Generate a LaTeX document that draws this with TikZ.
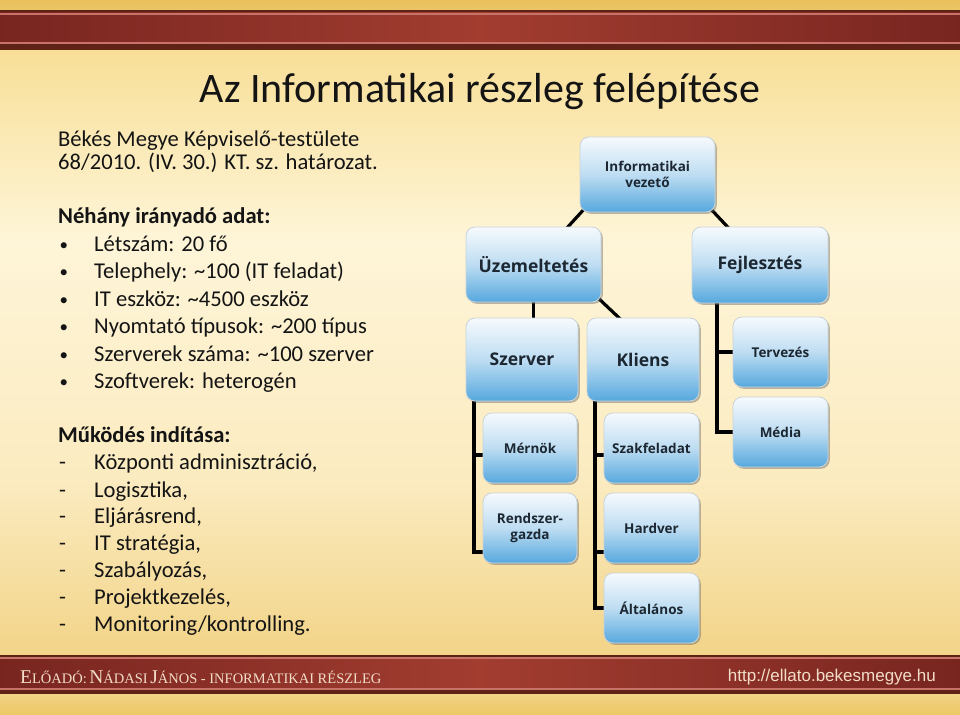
\documentclass[tikz,border=0pt]{standalone}
\usepackage{fontspec}
\setmainfont{Carlito}
\newfontfamily\boxfont{Open Sans}
\newfontfamily\footserif{Liberation Serif}
\newfontfamily\urlfont{Liberation Sans}
\usetikzlibrary{calc,shadows}
\pgfdeclarelayer{bglayer}
\pgfdeclarelayer{connlayer}
\pgfsetlayers{bglayer,connlayer,main}
\definecolor{bgtop}{HTML}{E9C05C}
\definecolor{bgA}{HTML}{F8DF98}
\definecolor{bgB}{HTML}{FEF5D8}
\definecolor{bgC}{HTML}{FBEBC0}
\definecolor{bgD}{HTML}{F2D488}
\definecolor{bgbot}{HTML}{EDC865}
\definecolor{redmid}{HTML}{A23D30}
\definecolor{redside}{HTML}{782520}
\definecolor{reddark}{HTML}{5C2214}
\definecolor{redlight}{HTML}{C8736A}
\definecolor{boxtop}{HTML}{F6FAFD}
\definecolor{boxmid}{HTML}{BEDDF2}
\definecolor{boxbot}{HTML}{56A8DE}
\definecolor{boxedge}{HTML}{C9D3DA}
\definecolor{boxtext}{HTML}{1C2732}
\definecolor{foottext}{HTML}{F2DDC8}
\definecolor{bodytext}{HTML}{141414}
\newcommand{\fsmall}[1]{{\fontsize{14.5}{14.5}\selectfont #1}}
\newcommand{\fbig}[1]{{\fontsize{19.5}{19.5}\selectfont #1}}
\begin{document}
\begin{tikzpicture}[x=1pt,y=-1pt,
  orgbox/.style={draw=boxedge, line width=0.8pt, rounded corners=9pt,
    top color=boxtop, bottom color=boxbot, middle color=boxmid,
    text=boxtext, font=\boxfont\bfseries\fontsize{13.5}{16}\selectfont, align=center, inner sep=0pt,
    drop shadow={shadow xshift=1.8pt, shadow yshift=-1.8pt, opacity=0.45, fill=black!60}},
  bigbox/.style={orgbox, font=\boxfont\bfseries\fontsize{17.5}{19}\selectfont},
  conn/.style={draw=black, line width=3.2pt},
  body/.style={anchor=base west, inner sep=0pt, text=bodytext, font=\fontsize{22.6}{26}\selectfont},
  bodyb/.style={body, font=\fontsize{22.6}{26}\selectfont\bfseries},
  bul/.style={body, font=\fontsize{17}{20}\selectfont},
  ]
\useasboundingbox (0,0) rectangle (960,714);
\begin{pgfonlayer}{bglayer}
% background
\fill[top color=bgtop, bottom color=bgtop!80!bgA] (0,0) rectangle (960,12);
\fill[top color=bgA, bottom color=bgB] (0,50) rectangle (960,240);
\fill[top color=bgB, bottom color=bgC] (0,240) rectangle (960,480);
\fill[top color=bgC, bottom color=bgD] (0,480) rectangle (960,656);
\fill[top color=bgD, bottom color=bgbot] (0,692) rectangle (960,714);
% top band
\shade[left color=redside, right color=redside, middle color=redmid] (0,11) rectangle (960,50);
\fill[reddark] (0,10.5) rectangle (960,12.5);
\fill[redlight] (0,13.5) rectangle (960,15);
\fill[redlight] (0,42.5) rectangle (960,44.5);
\fill[reddark!85!redside] (0,44.5) rectangle (960,50.5);
% bottom band
\shade[left color=redside, right color=redside, middle color=redmid] (0,655) rectangle (960,693);
\fill[reddark] (0,654.5) rectangle (960,656.5);
\fill[redlight] (0,657) rectangle (960,658.5);
\fill[redlight] (0,687.5) rectangle (960,689.5);
\fill[reddark!85!redside] (0,689.5) rectangle (960,694);
\end{pgfonlayer}

% title
\node[anchor=base, inner sep=0pt, text=bodytext, font=\fontsize{42}{46}\selectfont] (title) at (480,103) {Az Informatikai részleg felépítése};

% left texts
\node[body] (l1) at (58,147) {Békés Megye Képviselő-testülete};
\node[body] (l2) at (58,170) {68/2010. (IV. 30.) KT. sz. határozat.};
\node[bodyb] (h1) at (58,223) {Néhány irányadó adat:};
\foreach \y/\t [count=\i] in {251/{Létszám: 20 fő},278/{Telephely: \textasciitilde100 (IT feladat)},306/{IT eszköz: \textasciitilde4500 eszköz},333/{Nyomtató típusok: \textasciitilde200 típus},361/{Szerverek száma: \textasciitilde100 szerver},388/{Szoftverek: heterogén}}{
  \node[bul] (bd\i) at (59.5,\y-1) {•};
  \node[body] (bt\i) at (94,\y) {\t};
}
\node[bodyb] (h2) at (58,442) {Működés indítása:};
\foreach \y/\t [count=\i] in {469/{Központi adminisztráció,},497/{Logisztika,},523/{Eljárásrend,},550/{IT stratégia,},577/{Szabályozás,},604/{Projektkezelés,},631/{Monitoring/kontrolling.}}{
  \node[body] (dd\i) at (59,\y) {-};
  \node[body] (dt\i) at (94,\y) {\t};
}

% footer
\node[anchor=west, inner sep=0pt, text=foottext, font=\footserif] (foot) at (20,677)
  {\fbig{E}\fsmall{LŐADÓ:} \fbig{N}\fsmall{ÁDASI} \fbig{J}\fsmall{ÁNOS - INFORMATIKAI RÉSZLEG}};
\node[anchor=east, inner sep=0pt, text=foottext, font=\urlfont\fontsize{17}{17}\selectfont] (url) at (936,677) {http://ellato.bekesmegye.hu};

% org chart nodes
\node[orgbox, minimum width=135pt, minimum height=75pt] (vez) at (647.5,174.5) {Informatikai\\vezető};
\node[bigbox, minimum width=135pt, minimum height=75pt] (uz) at (533.5,264.5) {Üzemeltetés};
\node[bigbox, minimum width=136pt, minimum height=76pt] (fej) at (760,265) {Fejlesztés};
\node[bigbox, minimum width=112pt, minimum height=83pt] (sz) at (522,359.5) {Szerver};
\node[bigbox, minimum width=112pt, minimum height=83pt] (kli) at (643,359.5) {Kliens};
\node[orgbox, minimum width=95pt, minimum height=70pt] (ter) at (780.5,352) {Tervezés};
\node[orgbox, minimum width=95pt, minimum height=70pt] (med) at (780.5,432) {Média};
\node[orgbox, minimum width=94pt, minimum height=70pt] (mer) at (530,448) {Mérnök};
\node[orgbox, minimum width=94pt, minimum height=70pt] (rg) at (530,528) {Rendszer-\\gazda};
\node[orgbox, minimum width=95pt, minimum height=70pt] (szf) at (651.5,448) {Szakfeladat};
\node[orgbox, minimum width=95pt, minimum height=70pt] (hw) at (651.5,528) {Hardver};
\node[orgbox, minimum width=95pt, minimum height=70pt] (alt) at (651.5,608) {Általános};

% connectors (behind boxes)
\coordinate (szx) at (474,0);
\coordinate (klx) at (595,0);
\coordinate (fjx) at (717,0);
\begin{pgfonlayer}{connlayer}
\draw[conn] ($(vez.south west)+(7,-6)$) -- ($(uz.north)+(31,4)$);
\draw[conn] ($(vez.south east)+(-7,-6)$) -- ($(fej.north)+(-29,4)$);
\draw[conn] (uz.south) -- (uz.south |- sz.north);
\draw[conn] ($(uz.south east)+(-5,-6)$) -- ($(kli.north)+(-20,4)$);
% Fejlesztés branch
\draw[conn] (fjx |- fej.south) |- (med.west);
\draw[conn] (fjx |- ter.west) -- (ter.west);
% Szerver branch
\draw[conn] (szx |- sz.south) |- ($(rg.west)+(0,24)$);
\draw[conn] ($(mer.west)+(0,7)$) -- ($(szx |- mer.west)+(0,7)$);
% Kliens branch
\draw[conn] (klx |- kli.south) |- (alt.west);
\draw[conn] ($(szf.west)+(0,7)$) -- ($(klx |- szf.west)+(0,7)$);
\draw[conn] ($(hw.west)+(0,24)$) -- ($(klx |- hw.west)+(0,24)$);
\end{pgfonlayer}
\end{tikzpicture}
\end{document}
